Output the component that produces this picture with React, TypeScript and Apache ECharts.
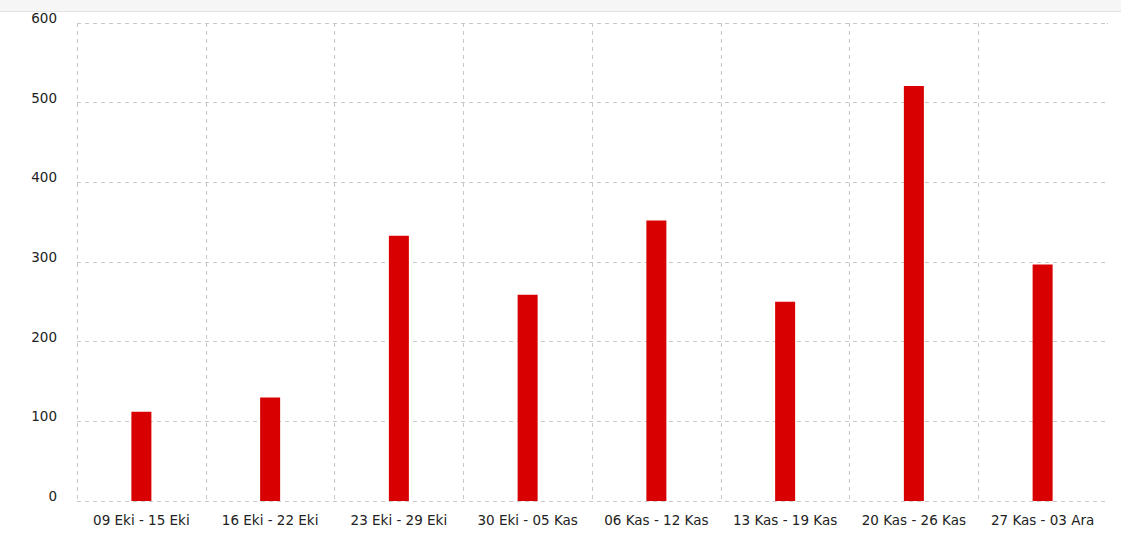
import React, { useEffect, useRef } from "react";
import * as echarts from "echarts";

const categories = [
  "09 Eki - 15 Eki",
  "16 Eki - 22 Eki",
  "23 Eki - 29 Eki",
  "30 Eki - 05 Kas",
  "06 Kas - 12 Kas",
  "13 Kas - 19 Kas",
  "20 Kas - 26 Kas",
  "27 Kas - 03 Ara",
];
const values = [112, 130, 333, 259, 352, 250, 521, 297];
const yMin = 0;
const yMax = 600;
const yInterval = 100;

export default function App() {
  const ref = useRef<HTMLDivElement>(null);
  useEffect(() => {
    document.body.style.margin = "0";
    const chart = echarts.init(ref.current!, null, { renderer: "svg" });
    const font = "DejaVu Sans, Verdana, sans-serif";
    chart.setOption({
      animation: false,
      backgroundColor: "#ffffff",
      grid: { left: 77, right: 14, top: 23, bottom: 38, containLabel: false },
      xAxis: {
        type: "category",
        data: categories,
        boundaryGap: true,
        axisLine: { show: false },
        axisTick: { show: false },
        axisLabel: {
          color: "#222222",
          fontSize: 13.5,
          fontFamily: font,
          margin: 12,
          interval: 0,
        },
        splitLine: {
          show: true,
          lineStyle: { type: [4, 4], color: "#c8c8c8", width: 1 },
        },
      },
      yAxis: {
        type: "value",
        min: yMin,
        max: yMax,
        interval: yInterval,
        axisLine: { show: false },
        axisTick: { show: false },
        axisLabel: {
          color: "#222222",
          fontSize: 13.5,
          fontFamily: font,
          margin: 20,
          verticalAlign: "bottom",
          lineHeight: 10,
        },
        splitLine: {
          show: true,
          lineStyle: { type: [4, 4], color: "#c8c8c8", width: 1 },
        },
      },
      series: [
        {
          type: "bar",
          data: values,
          barWidth: 20,
          itemStyle: { color: "#d80000" },
        },
      ],
      graphic: [
        {
          type: "rect",
          z: 90,
          shape: { x: 1106, y: 24, width: 3, height: 476 },
          style: { fill: "#ffffff" },
        },
        {
          type: "rect",
          z: 100,
          shape: { x: 0, y: 0, width: 1121, height: 11 },
          style: { fill: "#f6f6f6" },
        },
        {
          type: "line",
          z: 101,
          shape: { x1: 0, y1: 11.5, x2: 1121, y2: 11.5 },
          style: { stroke: "#e2e2e2", lineWidth: 1 },
        },
      ],
    });
    return () => chart.dispose();
  }, []);
  return <div ref={ref} style={{ width: 1121, height: 539 }} />;
}
